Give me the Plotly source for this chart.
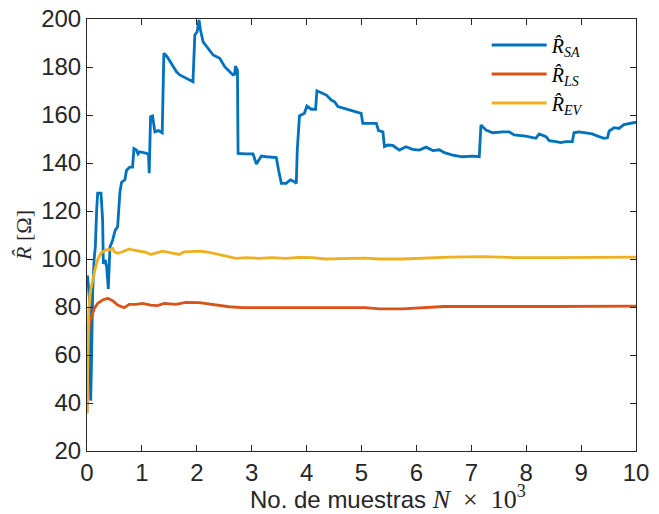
import plotly.graph_objects as go

# ---- data ----
x_sa = [0.0, 0.012, 0.042, 0.067, 0.08, 0.103, 0.13, 0.152, 0.175, 0.194, 0.255, 0.27, 0.285, 0.297,
        0.333, 0.358, 0.388, 0.418, 0.467, 0.49, 0.515, 0.558, 0.58, 0.6, 0.63, 0.69, 0.72, 0.78, 0.83,
        0.855, 0.9, 0.93, 0.96, 1.0, 1.085, 1.12, 1.133, 1.158, 1.194, 1.236, 1.3, 1.37, 1.4, 1.46,
        1.54, 1.63, 1.69, 1.81, 1.93, 1.964, 2.006, 2.04, 2.067, 2.115, 2.206, 2.297, 2.418, 2.509,
        2.6, 2.66, 2.69, 2.703, 2.74, 2.752, 2.9, 3.024, 3.085, 3.176, 3.267, 3.448, 3.49, 3.54, 3.63,
        3.703, 3.78, 3.812, 3.83, 3.87, 3.96, 4.006, 4.085, 4.164, 4.188, 4.267, 4.36, 4.45, 4.51,
        4.57, 4.73, 4.84, 4.994, 5.024, 5.145, 5.27, 5.31, 5.39, 5.418, 5.48, 5.57, 5.69, 5.81, 5.93,
        6.054, 6.176, 6.3, 6.418, 6.51, 6.66, 6.84, 7.024, 7.145, 7.176, 7.267, 7.39, 7.57, 7.69,
        7.78, 7.994, 8.176, 8.236, 8.36, 8.42, 8.54, 8.63, 8.72, 8.84, 8.87, 8.96, 9.085, 9.2, 9.327,
        9.418, 9.48, 9.51, 9.6, 9.69, 9.78, 9.87, 10.0]
r_sa = [93, 92.6, 84, 41, 55, 86, 100, 105, 120, 127.4, 127.4, 122, 116, 98,
        99.6, 96.8, 87.5, 105, 107.8, 110, 112, 113.4, 120, 128, 132, 133, 137, 138.3, 138.3,
        146, 145.4, 143.8, 144.7, 144.5, 144, 143.5, 135.7, 159.3, 159.6, 153, 153.5, 152.6, 185.7, 184.3,
        181.5, 178, 176.7, 175.3, 173.9, 193.3, 194.7, 199.6, 195.4, 190.5, 187.8, 185, 183.6, 180.1,
        178, 176.7, 177, 180.4, 178.75, 144, 143.8, 143.8, 139.6, 142.9, 142.6, 142.3, 137, 131.5, 131.5,
        133, 132.2, 131.5, 145.4, 159.6, 160.7, 163.75, 162.4, 162.4, 170.1, 169.3, 168.3, 166.25, 165.5,
        163.5, 162.4, 161.8, 160.7, 156.5, 156.5, 156.5, 153.5, 153, 146.8, 147.5, 147.3, 145.4, 146.8, 145.7,
        145.4, 146.6, 145.2, 145.5, 144.3, 143.3, 142.6, 142.9, 142.6, 155.8, 153.75, 152.6, 153, 153,
        151.7, 151.2, 150.3, 152.1, 151, 149.3, 148.9, 148.5, 148.9, 148.9, 152.6, 153, 152.6, 152.1, 151,
        150.3, 150.5, 153.3, 154.7, 154.4, 156, 156.5, 157]

x_ls = [0, 0.012, 0.042, 0.09, 0.133, 0.194, 0.285, 0.376, 0.467, 0.558, 0.648, 0.68, 0.77, 0.89,
        1.01, 1.164, 1.285, 1.406, 1.618, 1.8, 2.042, 2.254, 2.406, 2.588, 2.83, 3.13, 3.376, 3.75,
        4.1, 4.35, 4.8, 5.07, 5.33, 5.75, 6.5, 7.5, 8.5, 10]
r_ls = [35.7, 60.7, 73.2, 76.7, 79.4, 81.5, 82.9, 83.6, 82.6, 80.8, 80.1, 79.7, 81.1, 81.1,
        81.5, 80.8, 80.6, 81.5, 81.1, 81.9, 81.8, 81.1, 80.8, 80.1, 79.7, 79.7, 79.4, 79.4,
        79.7, 79.4, 79.7, 79.7, 79.2, 79.2, 80.2, 80.1, 80.2, 80.4]

x_ev = [0, 0.03, 0.055, 0.103, 0.152, 0.194, 0.255, 0.315, 0.345, 0.406, 0.467, 0.497, 0.558, 0.648,
        0.77, 0.83, 0.952, 1.073, 1.164, 1.255, 1.376, 1.558, 1.679, 1.77, 1.92, 2.07, 2.224, 2.406,
        2.588, 2.709, 2.89, 3.13, 3.376, 3.62, 3.86, 4.1, 4.345, 4.588, 4.83, 5.07, 5.33, 5.75, 6.2,
        6.6, 7.2, 7.8, 8.5, 9.0, 9.5, 10]
r_ev = [35.7, 77.4, 85.8, 91.4, 96.2, 99.7, 102.5, 103.3, 103.9, 103.75, 104.4, 103, 102.4, 103,
        104.2, 103.75, 103.3, 102.8, 101.9, 102.4, 103.3, 102.4, 101.9, 103, 103.3, 103.3, 102.8, 101.9,
        101, 100.3, 100.6, 100.3, 100.6, 100.3, 100.7, 100.6, 100, 100.3, 100.3, 100.4, 100, 100, 100.4,
        100.8, 101, 100.6, 100.6, 100.7, 100.7, 100.8]

x_ticks = list(range(0, 11))
y_ticks = list(range(20, 201, 20))

SERIF = "Liberation Serif"
SANS = "Liberation Sans, Arial, sans-serif"
AX = "#262626"
NB = "\u00a0"


def rhat(sub):
    return (f'<span style="font-family:{SERIF}"><i>R̂</i>'
            f'<sub><i>{sub}</i></sub></span>')


fig = go.Figure()
fig.add_trace(go.Scatter(x=x_sa, y=r_sa, mode="lines", name=rhat("SA"),
                         line=dict(color="#0072BD", width=2.8)))
fig.add_trace(go.Scatter(x=x_ls, y=r_ls, mode="lines", name=rhat("LS"),
                         line=dict(color="#D95319", width=2.8)))
fig.add_trace(go.Scatter(x=x_ev, y=r_ev, mode="lines", name=rhat("EV"),
                         line=dict(color="#EDB120", width=2.8)))

axis_common = dict(showline=True, linecolor=AX, linewidth=1, mirror="ticks",
                   ticks="inside", ticklen=6, tickcolor=AX, showgrid=False, zeroline=False,
                   tickfont=dict(family=SANS, size=24, color=AX), automargin=False,
                   ticklabeloverflow="allow")

fig.update_xaxes(range=[0, 10], tickvals=x_ticks, ticktext=[str(v) for v in x_ticks],
                 **axis_common)
fig.update_yaxes(range=[20, 200], tickvals=y_ticks, ticktext=[str(v) for v in y_ticks],
                 title=dict(text=f'<span style="font-family:{SERIF}"><i>R̂</i> [Ω]</span>',
                            font=dict(family=SERIF, size=22, color=AX), standoff=3),
                 **axis_common)

x_title = (f'No. de muestras <span style="font-family:{SERIF};font-size:26px">'
           f'<i>N</i>{NB}{NB}×{NB}{NB}10<sup>3</sup></span>')
fig.add_annotation(text=x_title, xref="paper", yref="paper", x=0.293, y=-0.108,
                   xanchor="left", yanchor="middle", showarrow=False,
                   font=dict(family=SANS, size=24, color=AX))

# the page body adds an 8px offset, so the figure is sized to fit inside the window
fig.update_layout(
    width=651, height=506,
    margin=dict(l=79, r=23, t=11, b=63),
    paper_bgcolor="white", plot_bgcolor="white",
    showlegend=True,
    legend=dict(x=0.728, y=0.985, xanchor="left", yanchor="top",
                font=dict(family=SERIF, size=20, color="black"),
                bgcolor="rgba(255,255,255,1)", borderwidth=0,
                itemwidth=55, tracegroupgap=0),
)

fig.write_html("out.html")
